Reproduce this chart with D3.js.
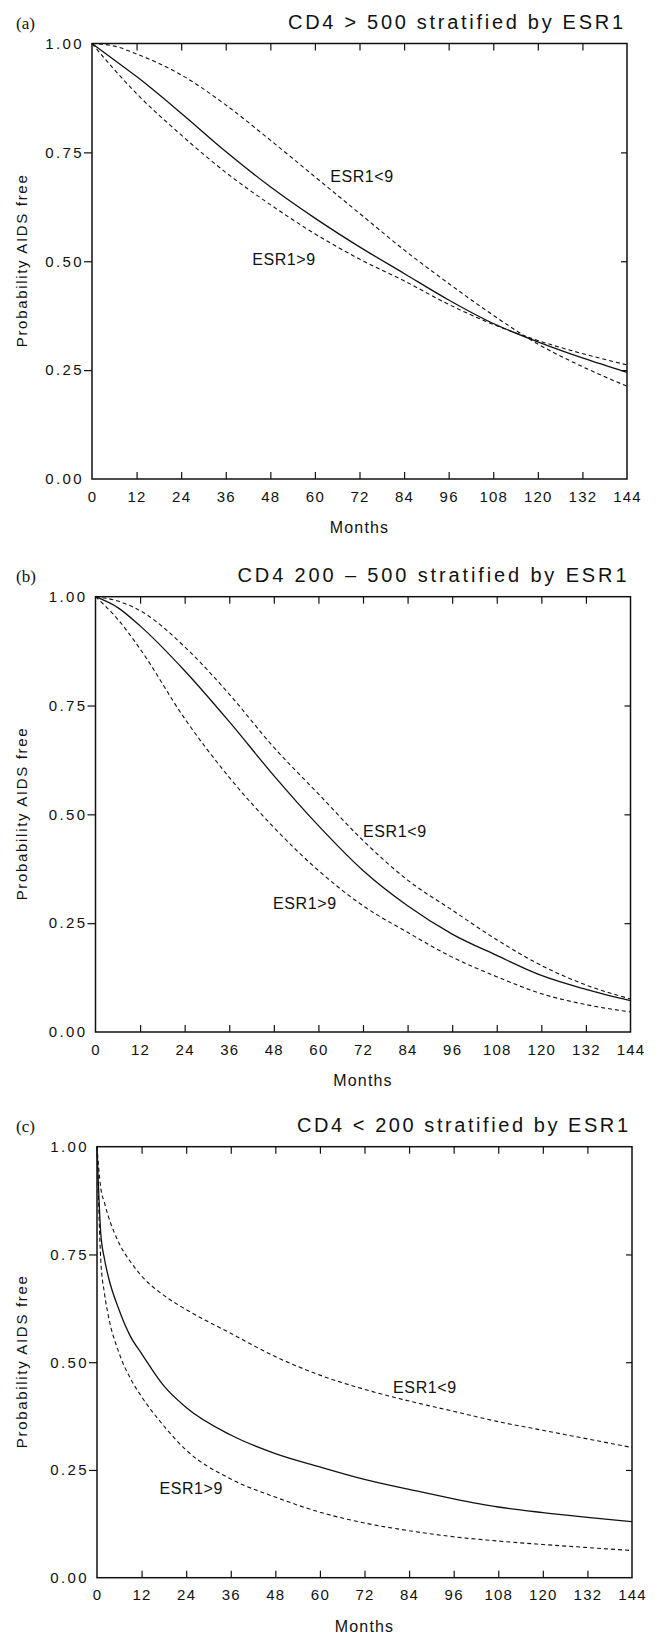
<!DOCTYPE html>
<html>
<head>
<meta charset="utf-8">
<script src="https://cdn.jsdelivr.net/npm/d3@7"></script>
<style>
  body { margin: 0; background: #fff; }
  svg { display: block; }
  text { font-family: "Liberation Sans", Arial, sans-serif; fill: #111; }
</style>
</head>
<body>
<svg id="chart"></svg>
<script>
// ---- Data ----
const monthTicks = [0, 12, 24, 36, 48, 60, 72, 84, 96, 108, 120, 132, 144];
const probTicks = [0, 0.25, 0.5, 0.75, 1];

// (a) CD4 > 500
const monthsA = [0, 6, 12, 24, 36, 48, 60, 72, 84, 96, 108, 120, 132, 144];
const overallA = [1.00, 0.962, 0.924, 0.840, 0.752, 0.671, 0.599, 0.533, 0.472, 0.411, 0.357, 0.315, 0.278, 0.245];
const below9A  = [1.00, 0.994, 0.976, 0.928, 0.859, 0.778, 0.694, 0.610, 0.526, 0.449, 0.376, 0.310, 0.258, 0.213];
const above9A  = [1.00, 0.940, 0.885, 0.790, 0.704, 0.630, 0.563, 0.505, 0.455, 0.401, 0.355, 0.318, 0.288, 0.262];
const labelsA  = [{ text: "ESR1<9", m: 64.1, p: 0.682 }, { text: "ESR1>9", m: 43.1, p: 0.491 }];

// (b) CD4 200 - 500
const monthsB = [0, 6, 12, 24, 36, 48, 60, 72, 84, 96, 108, 120, 132, 144];
const overallB = [1.00, 0.975, 0.933, 0.830, 0.713, 0.589, 0.474, 0.371, 0.290, 0.225, 0.176, 0.130, 0.098, 0.072];
const below9B  = [1.00, 0.990, 0.968, 0.885, 0.776, 0.654, 0.547, 0.440, 0.349, 0.280, 0.212, 0.153, 0.108, 0.076];
const above9B  = [1.00, 0.948, 0.880, 0.720, 0.585, 0.470, 0.371, 0.290, 0.229, 0.172, 0.127, 0.088, 0.063, 0.046];
const labelsB  = [{ text: "ESR1<9", m: 72, p: 0.448 }, { text: "ESR1>9", m: 47.8, p: 0.283 }];

// (c) CD4 < 200
const monthsC = [0, 1, 2, 3, 6, 9, 12, 18, 24, 36, 48, 60, 72, 84, 96, 108, 120, 132, 144];
const overallC = [1.00, 0.80, 0.74, 0.70, 0.62, 0.560, 0.520, 0.445, 0.395, 0.331, 0.288, 0.257, 0.228, 0.205, 0.183, 0.164, 0.151, 0.140, 0.130];
const below9C  = [1.00, 0.905, 0.87, 0.840, 0.775, 0.733, 0.700, 0.655, 0.622, 0.567, 0.513, 0.470, 0.437, 0.410, 0.386, 0.362, 0.342, 0.322, 0.302];
const above9C  = [1.00, 0.74, 0.66, 0.61, 0.52, 0.462, 0.42, 0.352, 0.296, 0.229, 0.187, 0.152, 0.127, 0.109, 0.095, 0.085, 0.077, 0.070, 0.063];
const labelsC  = [{ text: "ESR1<9", m: 79.7, p: 0.429 }, { text: "ESR1>9", m: 16.8, p: 0.194 }];

// ---- Layout ----
const width = 661, height = 1637;

const panels = [
  { tag: "(a)", title: "CD4 > 500 stratified by ESR1", titleWidth: 335,
    months: monthsA, overall: overallA, below9: below9A, above9: above9A, labels: labelsA,
    box: { left: 92, right: 627, top: 43.5, bottom: 479 } },
  { tag: "(b)", title: "CD4 200 \u2013 500 stratified by ESR1", titleWidth: 389,
    months: monthsB, overall: overallB, below9: below9B, above9: above9B, labels: labelsB,
    box: { left: 95.5, right: 630.5, top: 596.7, bottom: 1032 } },
  { tag: "(c)", title: "CD4 < 200 stratified by ESR1", titleWidth: 331,
    months: monthsC, overall: overallC, below9: below9C, above9: above9C, labels: labelsC,
    box: { left: 97, right: 632, top: 1146.7, bottom: 1577.7 } }
];

const svg = d3.select("#chart").attr("width", width).attr("height", height);

function styleAxis(g, size) {
  g.select(".domain").remove();
  g.attr("font-family", "Liberation Sans, Arial, sans-serif").attr("font-size", size);
  g.selectAll(".tick line").attr("stroke", "#111").attr("stroke-width", 1.2);
  g.selectAll(".tick text").attr("fill", "#111");
}

panels.forEach(p => {
  const { left, right, top, bottom } = p.box;
  const x = d3.scaleLinear([0, 144], [left, right]);
  const y = d3.scaleLinear([0, 1], [bottom, top]);
  const g = svg.append("g");

  // bottom axis: inward ticks, labels below
  g.append("g").attr("transform", `translate(0,${bottom})`)
    .call(d3.axisBottom(x).tickValues(monthTicks).tickSize(-7).tickPadding(12))
    .call(a => styleAxis(a, 15))
    .call(a => a.selectAll(".tick text").attr("letter-spacing", 1.2))
    .call(a => a.selectAll(".tick line").filter(d => d === 0 || d === 144).remove());

  // top axis: inward ticks, no labels
  g.append("g").attr("transform", `translate(0,${top})`)
    .call(d3.axisTop(x).tickValues(monthTicks).tickSize(-7).tickFormat(""))
    .call(a => styleAxis(a, 15))
    .call(a => a.selectAll(".tick line").filter(d => d === 0 || d === 144).remove());

  // left axis: outward ticks with labels
  g.append("g").attr("transform", `translate(${left},0)`)
    .call(d3.axisLeft(y).tickValues(probTicks).tickFormat(d3.format(".2f")).tickSize(8).tickPadding(0))
    .call(a => styleAxis(a, 15))
    .call(a => a.selectAll(".tick text").attr("letter-spacing", 2.4))
    .call(a => a.selectAll(".tick line").filter(d => d === 0 || d === 1).remove());

  // right axis: inward ticks
  g.append("g").attr("transform", `translate(${right},0)`)
    .call(d3.axisRight(y).tickValues(probTicks).tickSize(-6).tickFormat(""))
    .call(a => styleAxis(a, 15))
    .call(a => a.selectAll(".tick line").filter(d => d === 0 || d === 1).remove());

  // frame
  g.append("rect")
    .attr("x", left).attr("y", top)
    .attr("width", right - left).attr("height", bottom - top)
    .attr("fill", "none").attr("stroke", "#111").attr("stroke-width", 1.5);

  // curves
  const line = d3.line()
    .x(d => x(d[0]))
    .y(d => y(d[1]))
    .curve(d3.curveMonotoneX);

  const series = [
    { values: p.overall, dash: null, w: 1.3 },
    { values: p.below9, dash: "4,3", w: 1.1 },
    { values: p.above9, dash: "4,3", w: 1.1 }
  ];
  series.forEach(s => {
    g.append("path")
      .datum(p.months.map((m, i) => [m, s.values[i]]))
      .attr("fill", "none")
      .attr("stroke", "#111")
      .attr("stroke-width", s.w)
      .attr("stroke-dasharray", s.dash)
      .attr("d", line);
  });

  // curve labels
  g.selectAll("text.curve-label").data(p.labels).join("text")
    .attr("class", "curve-label")
    .attr("x", d => x(d.m))
    .attr("y", d => y(d.p))
    .attr("font-size", 16)
    .attr("letter-spacing", 0.6)
    .text(d => d.text);

  // title + panel tag
  g.append("text")
    .attr("x", right - 4)
    .attr("y", top - 14.5)
    .attr("text-anchor", "end")
    .attr("font-size", 20)
    .attr("textLength", p.titleWidth)
    .attr("lengthAdjust", "spacing")
    .text(p.title);

  g.append("text")
    .attr("x", 16)
    .attr("y", top - 14.5)
    .attr("font-size", 17)
    .style("font-family", "'Liberation Serif', 'Times New Roman', serif")
    .text(p.tag);

  // axis titles
  g.append("text")
    .attr("x", (left + right) / 2)
    .attr("y", bottom + 54)
    .attr("text-anchor", "middle")
    .attr("font-size", 16)
    .attr("letter-spacing", 1.2)
    .text("Months");

  g.append("text")
    .attr("transform", `translate(27,${(top + bottom) / 2}) rotate(-90)`)
    .attr("text-anchor", "middle")
    .attr("font-size", 15)
    .attr("textLength", 172)
    .attr("lengthAdjust", "spacing")
    .text("Probability AIDS free");
});
</script>
</body>
</html>
